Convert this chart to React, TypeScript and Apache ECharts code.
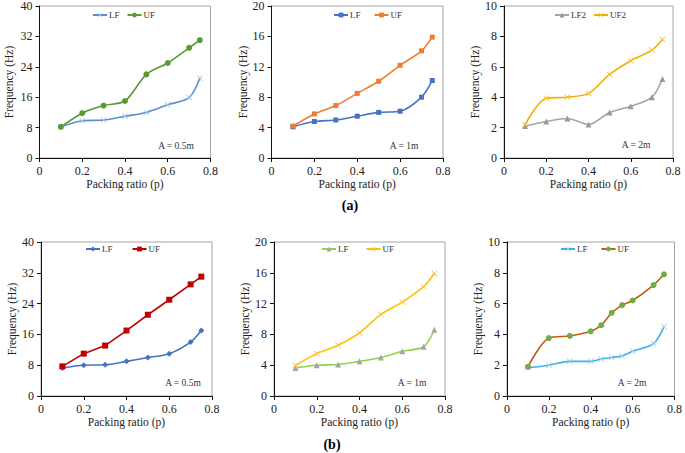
import React, { useEffect, useRef } from "react";
import * as echarts from "echarts";

// ---------- data ----------
const pRatio = [0.1, 0.2, 0.3, 0.4, 0.5, 0.6, 0.7, 0.75];
const pRatioFine = [0.1, 0.2, 0.3, 0.4, 0.45, 0.5, 0.55, 0.6, 0.7, 0.75];

// (a) A = 0.5m
const a1LF = [8.2, 9.8, 10.0, 11.0, 12.0, 14.0, 15.9, 21.0];
const a1UF = [8.2, 11.8, 13.8, 15.0, 22.0, 25.0, 29.0, 31.0];
// (a) A = 1m
const a2LF = [4.1, 4.8, 5.0, 5.5, 6.0, 6.15, 8.0, 10.2];
const a2UF = [4.2, 5.8, 6.9, 8.5, 10.1, 12.2, 14.1, 15.9];
// (a) A = 2m
const a3LF2 = [2.1, 2.4, 2.6, 2.2, 3.0, 3.4, 4.0, 5.2];
const a3UF2 = [2.2, 3.93, 4.0, 4.25, 5.5, 6.4, 7.1, 7.8];
// (b) A = 0.5m
const b1LF = [7.3, 8.0, 8.1, 9.0, 10.0, 11.0, 14.0, 17.0];
const b1UF = [7.7, 11.0, 13.1, 17.0, 21.1, 25.0, 29.0, 31.0];
// (b) A = 1m
const b2LF = [3.65, 4.0, 4.1, 4.5, 5.0, 5.8, 6.4, 8.6];
const b2UF = [3.95, 5.5, 6.6, 8.2, 10.6, 12.2, 14.2, 15.9];
// (b) A = 2m
const b3LF = [1.83, 2.0, 2.25, 2.25, 2.4, 2.5, 2.6, 2.9, 3.4, 4.5];
const b3UF = [1.9, 3.76, 3.9, 4.2, 4.6, 5.4, 5.9, 6.2, 7.2, 7.9];

const yMax = [40, 20, 10, 40, 20, 10];
const yStep = [8, 4, 2, 8, 4, 2];
const xTicks = { min: 0, max: 0.8, interval: 0.2 };
const areaLabels = ["A = 0.5m", "A = 1m", "A = 2m", "A = 0.5m", "A = 1m", "A = 2m"];
const xTitle = "Packing ratio (p)";
const yTitle = "Frequency (Hz)";
const rowLabels = ["(a)", "(b)"];

const FONT = '"Liberation Serif", "Times New Roman", serif';
const X_SHAPE = "path://M0,1L1,0L5,4L9,0L10,1L6,5L10,9L9,10L5,6L1,10L0,9L4,5Z";

const zip = (xs: number[], ys: number[]) => xs.map((x, i) => [x, ys[i]]);

export default function App() {
  const ref = useRef<HTMLDivElement>(null);

  useEffect(() => {
    document.body.style.margin = "0";
    const chart = echarts.init(ref.current!, null, { renderer: "svg" });

    const grids = [
      { left: 39.5, top: 5.5, width: 171, height: 152.5 },
      { left: 271.5, top: 6, width: 171.5, height: 152 },
      { left: 504, top: 6, width: 169, height: 152 },
      { left: 41, top: 242, width: 171, height: 154 },
      { left: 274, top: 242, width: 171, height: 154 },
      { left: 507, top: 242, width: 170, height: 154 },
    ].map((g) => ({
      ...g,
      show: true,
      borderColor: "#a6a6a6",
      borderWidth: 1,
      backgroundColor: "transparent",
    }));

    const yNameGap = [25, 23, 23, 22, 22, 23];

    const xAxis = grids.map((_, i) => ({
      type: "value",
      gridIndex: i,
      ...xTicks,
      name: xTitle,
      nameLocation: "middle",
      nameGap: 20,
      nameTextStyle: { fontFamily: FONT, fontSize: 11.5, color: "#222" },
      axisLine: { show: true, onZero: false, lineStyle: { color: "#111", width: 1 } },
      axisTick: { show: true, length: 4, lineStyle: { color: "#111" } },
      axisLabel: { fontFamily: FONT, fontSize: 12, color: "#222", margin: 7 },
      splitLine: { show: false },
    }));

    const yAxis = grids.map((_, i) => ({
      type: "value",
      gridIndex: i,
      min: 0,
      max: yMax[i],
      interval: yStep[i],
      name: yTitle,
      nameLocation: "middle",
      nameGap: yNameGap[i],
      nameTextStyle: { fontFamily: FONT, fontSize: 11.5, color: "#222" },
      axisLine: { show: true, onZero: false, lineStyle: { color: "#111", width: 1 } },
      axisTick: { show: true, length: 4, lineStyle: { color: "#111" } },
      axisLabel: { fontFamily: FONT, fontSize: 12, color: "#222", margin: 7 },
      splitLine: { show: false },
    }));

    const mk = (
      name: string,
      idx: number,
      xs: number[],
      ys: number[],
      line: string,
      marker: string,
      symbol: string,
      size: number,
      smooth: number | boolean
    ) => ({
      type: "line",
      name,
      xAxisIndex: idx,
      yAxisIndex: idx,
      data: zip(xs, ys),
      smooth,
      symbol,
      symbolSize: size,
      lineStyle: { color: line, width: 1.6 },
      itemStyle: { color: marker, borderColor: marker, borderWidth: 0 },
      z: 3,
    });

    const series = [
      mk("LF|1", 0, pRatio, a1LF, "#5b8fd0", "#a9c1e6", X_SHAPE, 6, 0.3),
      mk("UF|1", 0, pRatio, a1UF, "#5a9a35", "#5a9a35", "circle", 6, 0.3),
      mk("LF|2", 1, pRatio, a2LF, "#4472c4", "#4472c4", "rect", 5, 0.3),
      mk("UF|2", 1, pRatio, a2UF, "#ed7d31", "#ed7d31", "rect", 5, 0.3),
      mk("LF2|3", 2, pRatio, a3LF2, "#a5a5a5", "#9a9a9a", "triangle", 6, 0.3),
      mk("UF2|3", 2, pRatio, a3UF2, "#f2b100", "#f4c030", X_SHAPE, 6, 0.3),
      mk("LF|4", 3, pRatio, b1LF, "#4472c4", "#4472c4", "diamond", 6, 0.3),
      mk("UF|4", 3, pRatio, b1UF, "#c00000", "#c00000", "rect", 6, false),
      mk("LF|5", 4, pRatio, b2LF, "#92d050", "#a5a5a5", "triangle", 6, 0.3),
      mk("UF|5", 4, pRatio, b2UF, "#ffc000", "#f5c542", X_SHAPE, 6, 0.3),
      mk("LF|6", 5, pRatioFine, b3LF, "#3fb1ea", "#a9cbe6", X_SHAPE, 6, 0.3),
      mk("UF|6", 5, pRatioFine, b3UF, "#c55a11", "#70ad47", "circle", 6, 0.3),
    ];

    const legendPos = [
      { left: 92, top: 10.5, itemGap: 7, data: ["LF|1", "UF|1"] },
      { left: 333, top: 10.5, itemGap: 13, data: ["LF|2", "UF|2"] },
      { left: 554, top: 10.5, itemGap: 7, data: ["LF2|3", "UF2|3"] },
      { left: 85, top: 244.5, itemGap: 19, data: ["LF|4", "UF|4"] },
      { left: 321, top: 244.5, itemGap: 17, data: ["LF|5", "UF|5"] },
      { left: 560, top: 244.5, itemGap: 13, data: ["LF|6", "UF|6"] },
    ];

    const legend = legendPos.map((l) => ({
      ...l,
      orient: "horizontal",
      padding: 0,
      itemWidth: 14,
      itemHeight: 6,
      selectedMode: false,
      formatter: (n: string) => n.split("|")[0],
      textStyle: { fontFamily: FONT, fontSize: 9, color: "#333", padding: [0, 0, 0, -3] },
    }));

    const annPos = [
      [176, 146],
      [404, 146],
      [636, 145],
      [183, 383],
      [412, 383],
      [632, 383],
    ];

    const graphic = [
      ...annPos.map((p, i) => ({
        type: "text",
        x: p[0],
        y: p[1],
        style: {
          text: areaLabels[i],
          fontFamily: FONT,
          fontSize: 9.5,
          fill: "#333",
          align: "center",
          verticalAlign: "middle",
        },
      })),
      {
        type: "text",
        x: 350,
        y: 205,
        style: {
          text: rowLabels[0],
          fontFamily: FONT,
          fontSize: 14,
          fontWeight: "bold",
          fill: "#000",
          align: "center",
          verticalAlign: "middle",
        },
      },
      {
        type: "text",
        x: 332,
        y: 444,
        style: {
          text: rowLabels[1],
          fontFamily: FONT,
          fontSize: 14,
          fontWeight: "bold",
          fill: "#000",
          align: "center",
          verticalAlign: "middle",
        },
      },
    ];

    chart.setOption({
      animation: false,
      backgroundColor: "#ffffff",
      grid: grids,
      xAxis,
      yAxis,
      legend,
      series,
      graphic,
    });

    return () => chart.dispose();
  }, []);

  return (
    <div
      ref={ref}
      style={{ position: "fixed", left: 0, top: 0, width: 685, height: 453 }}
    />
  );
}
